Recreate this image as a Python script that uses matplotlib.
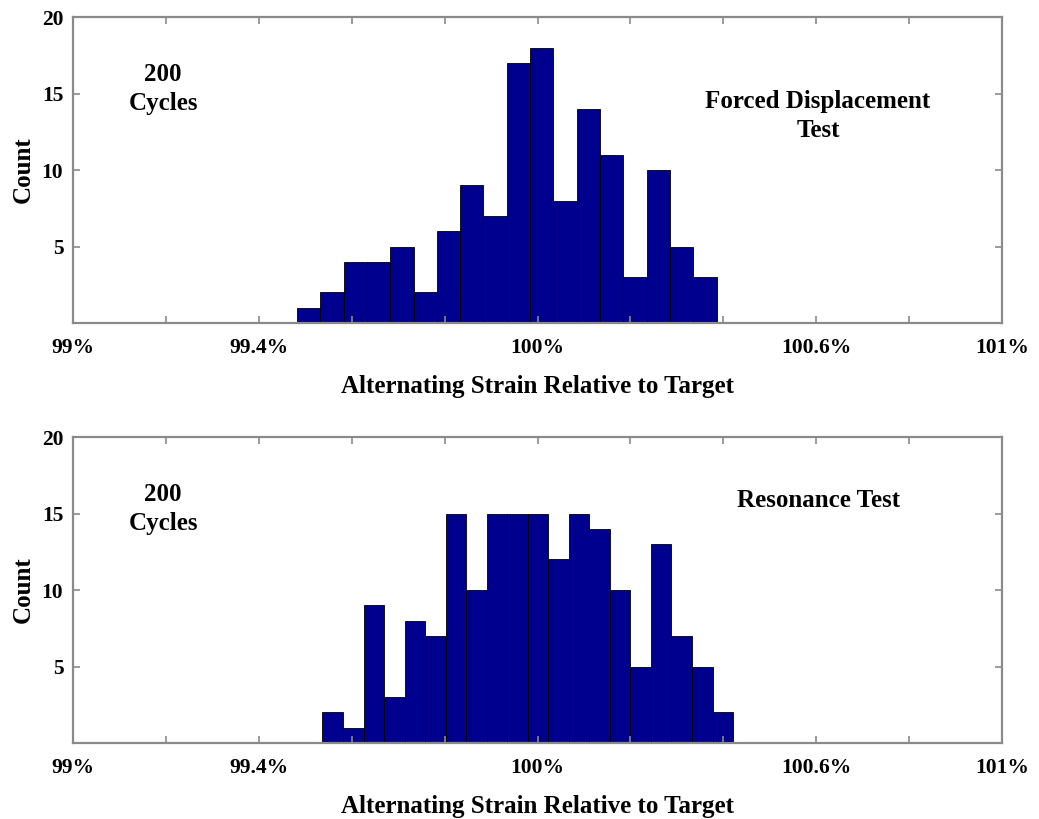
import numpy as np
import matplotlib.pyplot as plt

# histogram counts, strain as % of target
fd_left = 99.482
fd_width = 0.0502
fd_counts = [1, 2, 4, 4, 5, 2, 6, 9, 7, 17, 18, 8, 14, 11, 3, 10, 5, 3]

res_left = 99.537
res_width = 0.0442
res_counts = [2, 1, 9, 3, 8, 7, 15, 10, 15, 15, 15, 12, 15, 14, 10, 5, 13, 7, 5, 2]

xticks = [99.0, 99.2, 99.4, 99.6, 99.8, 100.0, 100.2, 100.4, 100.6, 100.8, 101.0]
xlabels = ['99%', '', '99.4%', '', '', '100%', '', '', '100.6%', '', '101%']
yticks = [5, 10, 15, 20]

plt.rcParams['font.family'] = ['Liberation Serif', 'DejaVu Serif']
plt.rcParams['font.weight'] = 'bold'

bar_color = '#00008f'
frame = '#8a8a8a'

fig = plt.figure(figsize=(10.39, 8.19), dpi=100)
ax1 = fig.add_axes([0.0703, 0.6056, 0.8941, 0.3736])
ax2 = fig.add_axes([0.0703, 0.0928, 0.8941, 0.3736])


def draw_hist(ax, left, width, counts, note, note_xy):
	edges = left + width * np.arange(len(counts))
	ax.bar(edges, counts, width=width, align='edge', color=bar_color,
	       edgecolor='black', linewidth=0.6)
	ax.set_xlim(99, 101)
	ax.set_ylim(0, 20)
	ax.set_xticks(xticks)
	ax.set_xticklabels(xlabels)
	ax.set_yticks(yticks)
	ax.tick_params(direction='in', length=5, width=1.2, color=frame,
	               top=True, right=True, labelsize=15.5)
	ax.tick_params(axis='x', pad=11)
	ax.tick_params(axis='y', pad=7)
	for s in ax.spines.values():
		s.set_color(frame)
		s.set_linewidth(1.6)
	ax.set_xlabel('Alternating Strain Relative to Target', fontsize=18,
	              fontweight='bold', labelpad=12)
	ax.set_ylabel('Count', fontsize=18, fontweight='bold', labelpad=5)
	ax.text(99.194, 15.3, '200\nCycles', ha='center', va='center',
	        fontsize=18, fontweight='bold', linespacing=1.35)
	ax.text(note_xy[0], note_xy[1], note, ha='center', va='center',
	        fontsize=18, fontweight='bold', linespacing=1.35)


draw_hist(ax1, fd_left, fd_width, fd_counts,
          'Forced Displacement\nTest', (100.604, 13.55))
draw_hist(ax2, res_left, res_width, res_counts,
          'Resonance Test', (100.604, 15.85))

fig.savefig('out.png', dpi=100)
